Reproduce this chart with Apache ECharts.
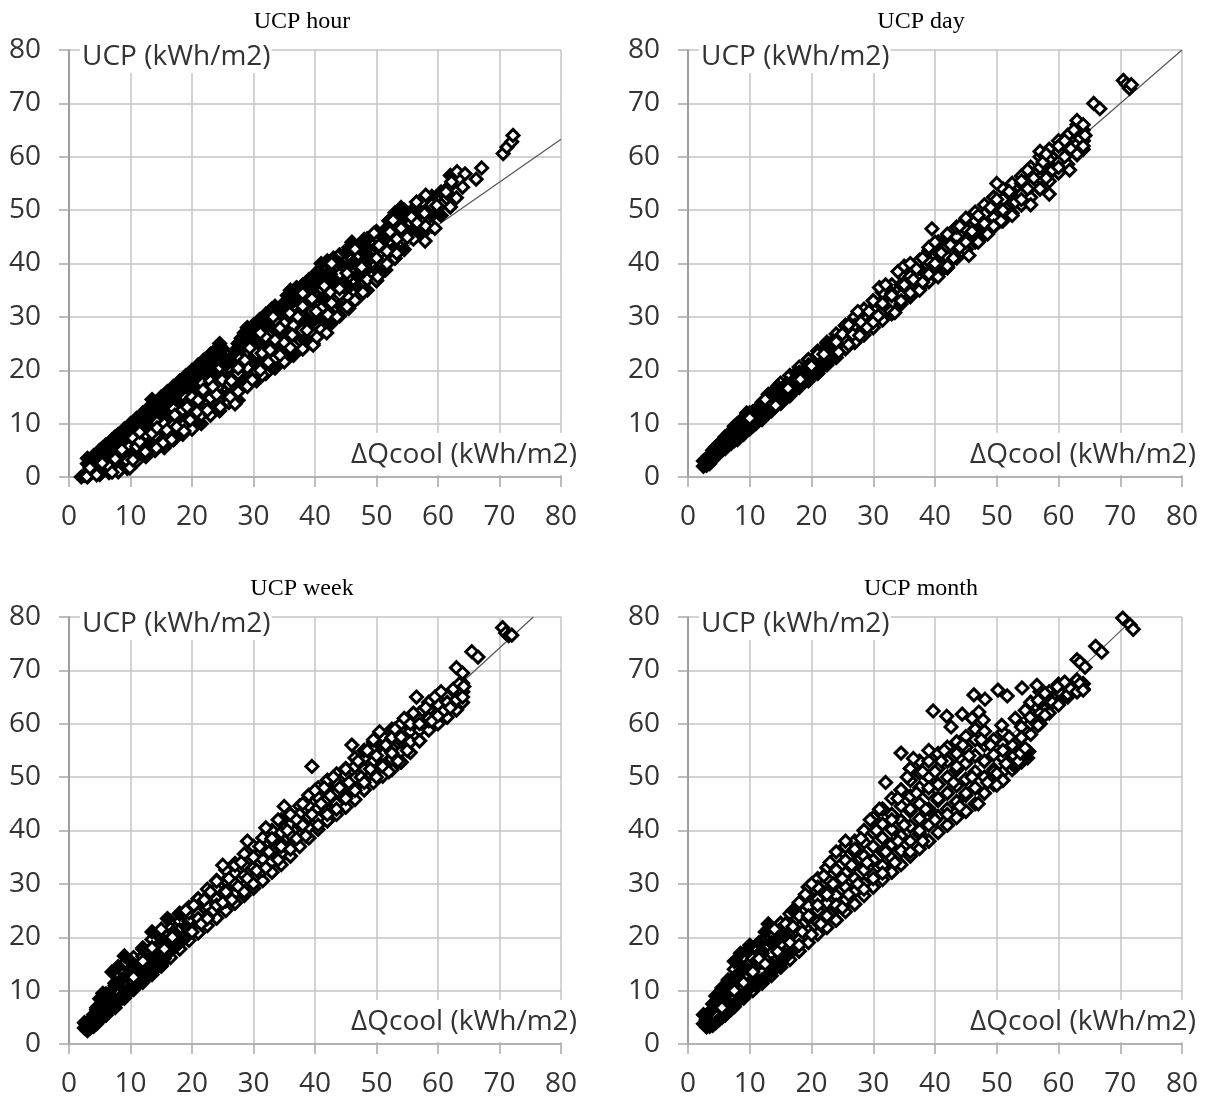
<!DOCTYPE html>
<html><head><meta charset="utf-8">
<style>html,body{margin:0;padding:0;background:#fff}#c{width:1207px;height:1104px}</style>
<script src="https://cdn.jsdelivr.net/npm/echarts@6/dist/echarts.min.js"></script>
</head><body><div id="c"></div>
<script>
const panelTitles = ['UCP hour','UCP day','UCP week','UCP month'];
const yLabel = 'UCP (kWh/m2)';
const xLabel = 'ΔQcool (kWh/m2)';
const trendHour = [[2,0.6],[80,63.3]];
const trendDay = [[2.5,2.4],[80,80]];
const trendWeek = [[2.5,2.9],[75.5,80]];
const trendMonth = [[3,3.5],[71.5,79]];

const hourCols = [[5,[0.5,1.5,2.5,3.5,4.5]],[6.5,[0.8,2,3.2,4.4,5.6]],[8,[1,2.2,3.6,5,6.3,7.5]],[9.5,[1.6,3,4.4,5.8,7.2,8.6]],[11,[3,4.3,5.7,7.2,8.6,10]],[12.5,[3.8,5.2,6.6,8,9.4,10.8,12]],[14,[5,6.4,7.8,9.2,10.6,12,13.4]],[15.5,[5.5,7,8.6,10,11.4,13,14.5]],[17,[7,8.4,9.8,11.4,12.8,14.2,15.6]],[18.5,[8,9.6,11,12.6,14,15.4,17]],[20,[9,10.6,12,13.6,15,16.6,18,19.2]],[21.5,[10,11.6,13.2,14.8,16.2,17.8,19.2,20.5]],[23,[11.6,13.2,14.8,16.4,18,19.6,21,22.4]],[24.5,[12.4,14,15.6,17.2,19,20.6,22,23.6]],[26,[14,15.6,17.4,19,20.6,22]],[27.5,[14.4,16,17.6,19.4,21,22.6,24.2]],[29,[17,18.8,20.5,22,23.6,25.2,26.8]],[30.5,[18,19.8,21.6,23.2,25,26.6,28.2]],[32,[19.4,21,22.8,24.6,26.2,28,29.6]],[33.5,[20.4,22.2,24,25.8,27.6,29.4,30.8]],[35,[21.6,23.4,25.2,27,28.8,30.6,32.6]],[36.5,[22.8,24.6,26.4,28.4,30.2,32,33.8]],[38,[24,26,28,30,32,33.8,35.6]],[39.5,[25,27,29,31,33,35,36.8]],[41,[27.6,29.6,31.6,33.6,35.4,37.4,39]],[42.5,[28.6,30.6,32.6,34.6,36.6,38.6,40]],[44,[30.2,32.2,34.2,36.2,38,40,41.6]],[45.5,[31.6,33.6,35.6,37.6,39.6,41.6,43]],[47,[33.6,35.6,37.6,39.6,41.6,43.2]],[48.5,[35,37,39,41,43,44.6]],[50,[36.8,38.8,41,43,45]],[51.5,[38.8,40.8,42.8,44.8,46.4]],[53,[41,43,45,47,49]],[54.5,[42.6,44.6,46.6,48.6,50]],[56,[44.6,46.4,48.4,50.2]],[57.5,[45.6,47.6,49.6,51.6]],[59,[47,49,51,52.6]],[60.5,[49,51,53.4]],[62,[50.6,52.6,54.6,56.5]]];
const hourDense = [[2,0],[2.5,0.3],[3,0],[3.5,1],[3,2.5],[3,3.5],[4,2],[4,4],[4.5,3],[5,5],[5,3.5],[5.5,5.5],[6,4],[6,6],[6.5,5],[7,7],[7,5.5],[7.5,7.5],[8,6],[8,8],[8.5,7],[9,9],[9,7],[9.5,8.5],[10,10],[10,8],[10.5,10],[11,9],[11,11],[11.5,10],[12,12],[12,10],[12.5,11],[13,13],[13,11],[13.5,14.5],[13.5,12],[14,14],[14.5,13],[15,15],[15,13],[15.5,14],[16,16],[16,14],[16.5,15.5],[17,17],[17,15],[17.5,16],[18,18],[18,16],[18.5,17],[19,19],[19,17],[19.5,18.5],[20,20],[20,18],[20.5,19.5],[21,21],[21,19],[21.5,20],[22,22],[22,20],[22.5,21],[23,23],[23,21],[23.5,22.5],[24,24],[24,22],[24.5,25],[25,24],[25,22.5],[25.5,21],[27,23.5],[27.5,25],[28,26],[28,24],[28.5,27],[29,28],[29,25.5],[30,28.5],[30,26.5],[31,29.5],[31,28],[32,30.5],[32,29],[33,31.5],[33.5,32],[34,31],[35.5,32.5],[35.5,34],[36,35],[36.5,33],[37,35.5],[37.5,34],[38,36],[39,37],[39,35],[40,38],[40,36],[41,40],[41,38],[41.5,36],[42,40.5],[42.5,38],[43,41],[43,37],[44,40],[45,42],[45,36],[46,44],[46.5,40],[47,38],[48,44.5],[48,42],[49,41],[50,46],[51,45],[52,48],[53,49.5],[54,50.5],[54.5,49]];
const hourOpen = [[2.9,0.1],[4.5,0.4],[3.4,1.7],[7,0.9],[5.4,2.6],[9.9,1.7],[8.6,5.1],[7.5,3.4],[10.4,3.2],[12.4,4.7],[10.4,7.3],[11.5,6.6],[11.5,8.4],[13.5,8.2],[14.3,9.2],[15.3,6.4],[14.2,5.4],[15.9,8.8],[17.5,9.4],[16.7,7],[17.2,11.6],[19.7,10.7],[19.2,13.1],[20.8,12.2],[18.7,8.6],[21,14.4],[21.8,16.3],[22.5,12.5],[24.6,13.1],[27,13.7],[23.4,16.9],[24,15.4],[26.2,15],[24.9,18.2],[27.5,20.4],[26.4,18],[28.6,21.9],[29.4,24.2],[29.8,18.2],[31.4,19.1],[31.1,20],[32.4,21.5],[31.4,23.2],[32.7,23.8],[33.5,25.7],[31.1,27],[34.3,27.9],[33.2,30],[35.9,30.7],[37.2,30],[36.3,26.6],[37.9,27.5],[34.3,22.8],[36,24.2],[38,34.4],[39.7,25],[39.7,24.7],[40.3,26.2],[38.7,27.5],[41.9,27],[42.1,30.4],[43.6,30],[42.7,32.6],[40.2,31],[39.5,33.4],[45.2,31.9],[46.5,33.1],[47.8,34.6],[45.2,38.2],[42.7,40],[44,35.3],[41.5,35.8],[47.6,39.3],[46.5,42.7],[50,41],[50.2,37.5],[51.7,39.9],[49.6,45.7],[50.4,43.4],[51.7,42.3],[53.3,41.9],[52.2,45.9],[53.3,44.6],[55,44.9],[52.7,48.1],[54,46.6],[55.7,48.7],[56.6,47.6],[58,47],[59.5,46.6],[57.9,44.2],[56.5,51.5],[57.8,49.4],[58,52.8],[59.8,50.9],[61.3,53.4],[63,52.3],[62.2,55.3],[64,54.3],[63.1,57.2],[64.4,56.8],[67.1,57.9],[66.2,55.8],[70.6,60.6],[71.2,61.8],[72,62.8],[72.2,64]];

const dayCols = [[3,[2.4,3]],[4.5,[4,4.8,5.6]],[6,[5.4,6.2,7]],[7.5,[6.8,7.8,8.8]],[9,[8.2,9.2,10.2,11]],[10.5,[9.6,10.6,11.6,12.2]],[12,[10.8,12,13.2,14]],[13.5,[12.4,13.6,14.8,15.6]],[15,[13.8,15,16.2,17.6]],[16.5,[15.2,16.6,18,19]],[18,[16.8,18.2,19.6,20.6]],[19.5,[18,19.6,21,22]],[21,[19.4,20.8,22.2,23.6]],[22.5,[21,22.4,23.8,25.2]],[24,[22.4,23.8,25.4,26.8]],[25.5,[24,25.6,27,28.4]],[27,[25.2,26.8,28.4,30]],[28.5,[26.6,28.2,30,31.4]],[30,[28,29.6,31.4,33]],[31.5,[29.4,31,33,34.6]],[33,[30.6,32.6,34.4,36]],[34.5,[32.4,34,36,38]],[36,[33.8,35.6,37.6,39.4]],[37.5,[35.2,37,39,40.6]],[39,[36.6,38.4,40.4,42.4]],[40.5,[38,40,42,44]],[42,[39.2,41.2,43.2,45]],[43.5,[41,43,45,46.8]],[45,[42.6,44.4,46.4,48]],[46.5,[44,46,48,49.6]],[48,[45.4,47.2,49.2,51]],[49.5,[46.8,48.6,50.6,52.4]],[51,[48,50,52,54]],[52.5,[49.4,51.4,53.4,55]],[54,[51,53,55,56.4]],[55.5,[52.4,54.4,56.4,58]],[57,[54,56,58,60]],[58.5,[55.4,57.4,59.4,61.4]],[60,[57,59,61,63]],[61.5,[58.6,60.6,62.6,64]],[63,[60.4,62.4,64.4,66]],[64,[61.4,63,65]]];
const dayDense = [[2.5,2],[2.5,3],[3,2.2],[3,3.5],[3.5,2.5],[3.5,4],[4,3.5],[4,5],[4.5,3.8],[4.5,5.5],[5,4.5],[5,6.2],[5.5,5],[5.5,6.5],[6,5.3],[6,7.5],[6.5,6],[6.5,8],[7,6.3],[7,8.5],[7.5,7],[7.5,9.5],[8,7],[8,10],[8.5,8],[8.5,10.5],[9,8],[9,11],[9.5,9],[9.5,12],[10,9],[10,12],[10.5,10],[11,10],[11,12.5],[11.5,11],[11.5,13.2],[12,11],[12,13.5],[12.5,12.5],[13,12],[13,15.5],[13.5,12.5],[14,13],[14,15],[14.5,14],[14.5,17],[15,14],[15,16],[15.5,16.5],[16,15],[16,17.5],[16.5,15.5],[17,16],[17,18],[17.5,19.5],[18,17],[18,19.5],[18.5,18],[19,18],[19,20],[19.5,21],[20,18.8],[20.5,19.5],[21,20],[21,22],[21.5,23.5],[22,20.8],[22.5,25],[23,22],[23,24.5],[23.5,25.5],[24,23]];
const dayOpen = [[10,11],[12.5,14.5],[14.2,13.4],[16.2,16.6],[18.2,18.3],[20,20.8],[21,23],[22,23],[24,25.3],[24.4,23.4],[25,26.8],[26,24.8],[26,28.5],[26.7,26.7],[27.5,31],[27.8,26.5],[28,29],[29,28],[29.3,31],[30,29],[30,33],[30.8,30.2],[31,35.5],[31.5,32.5],[32,36],[32.8,31],[33,34],[33.5,30.8],[34,38.5],[34.5,33],[35,36],[35,39.5],[36,34.5],[36,40],[36.5,37],[37,39],[37.5,35],[38,41],[38,36.5],[39,38],[39,43],[39.5,46.5],[40,40],[40,44],[40.5,37.5],[41,42],[42,39.5],[42,45.5],[42.5,43.5],[43,41],[44,43],[44,47],[45,44],[45,48.5],[45.5,41.5],[46,46],[47,44],[47,49],[48,47.5],[48.5,45.5],[49,50.5],[49.5,47],[50,55],[50,52],[50.7,48],[51,50],[52,53.5],[52.5,49],[53,51.5],[54,55.5],[54,52],[55,57.5],[55,54],[55.5,51],[56,56],[57,54],[57.5,59],[57,61],[58,60.5],[58,56],[58.5,53],[59,57.5],[60,62],[60,58],[61,60],[61,63],[61.8,57.5],[62,61.5],[62.5,65],[63,60.5],[63,66.8],[63.5,63.5],[64,66],[64,62],[64.3,64],[65.7,70],[66.7,69],[70.5,74.3],[71,73.6],[71.5,72.8],[71.8,73.5]];

const weekCols = [[3,[2.8,3.6]],[4.5,[3.8,5,6.4]],[6,[5.4,6.6,8,9.4]],[7.5,[6.8,8.2,9.8,11.4,13]],[9,[8.6,10.2,11.8,13.4,15]],[10.5,[10.2,11.6,13.2,14.8,16.2]],[12,[11.6,13.2,14.8,16.4,17.8]],[13.5,[13,14.6,16.4,18,19.6]],[15,[14.6,16.4,18,19.8,21.4]],[16.5,[16.2,18,19.8,21.6,23]],[18,[17.8,19.6,21.4,23,24.4]],[19.5,[19.4,21.2,23,24.6,25.6]],[21,[20.8,22.6,24.4,26,27.2]],[22.5,[22.2,24,25.8,27.6,29]],[24,[23.6,25.4,27.2,29,30.6]],[25.5,[25,26.8,28.8,30.6,32.6]],[27,[26.4,28.2,30,32,33.8]],[28.5,[27.8,29.6,31.6,33.6,35.6]],[30,[29.2,31,33,35,37]],[31.5,[30.6,32.6,34.6,36.6,38.6]],[33,[32.2,34.2,36.2,38.2,40]],[34.5,[33.6,35.6,37.6,39.6,42]],[36,[35.2,37.2,39.2,41.2,43]],[37.5,[37,39,41,43,44.6]],[39,[38.6,40.6,42.6,44.6,46.6]],[40.5,[40.2,42.2,44.2,46.2,48]],[42,[41.8,43.8,45.8,47.8,49.4]],[43.5,[43,45,47,49,50.6]],[45,[44.4,46.4,48.4,50.4,51.6]],[46.5,[45.8,47.8,49.8,52,53.6]],[48,[47.6,49.4,51.4,53.4,55]],[49.5,[49,51,53,55,56.6]],[51,[50.2,52.2,54.2,56.2,57.6]],[52.5,[51.4,53.4,55.4,57.4,59]],[54,[52.8,54.8,56.8,58.8,60]],[55.5,[54.6,56.6,58.6,60.4]],[57,[56.8,58.8,60.8,62]],[58.5,[58.8,60.6,62.6,64]],[60,[60,61.8,63.6,65.4]],[61.5,[61.2,63,65]],[63,[62.6,64.4,66.4]],[64,[64,66,67.6]]];
const weekDense = [[2.5,3],[2.5,4],[3,2.5],[3,3.8],[3.5,3],[3.5,4.5],[4,3.3],[4,5.5],[4.5,4],[4.5,6.8],[5,4.5],[5,8.5],[5.5,5.5],[5.5,9.5],[6,6],[6,8],[6.5,6.5],[6.5,9.5],[7,7],[7,13.5],[7.5,7.5],[7.5,11],[8,8],[8,14.5],[8.5,8.5],[8.5,12],[9,9.5],[9,16.5],[9.5,10],[9.5,13],[10,10],[10,15.5],[10.5,10.5],[11,11],[11,14],[11.5,12],[12,12],[12,18],[12.5,13],[13,13],[13,15.5],[13.5,21],[14,14],[14,17],[14.5,15],[15,15],[15,19],[15.5,16],[16,17],[16,23.5],[16.5,17.5],[17,18],[17,21],[17.5,18.5],[18,19],[18,24.5],[18.5,19.5],[19,20],[19,22],[19.5,21]];
const weekOpen = [[10.5,12.5],[12,15.5],[13.5,18],[15,21.5],[15.5,17.8],[16.8,20],[19,25],[20,21],[20.3,26],[21,23.5],[21.5,22.5],[22,27],[22.5,23.5],[23,28.5],[23.5,25],[24,30.5],[24,26],[25,26.5],[25,33.5],[25.5,28.5],[26,31],[26.5,27],[27,33.5],[27.5,29.5],[28,34],[28.5,28.5],[29,31],[29,38],[30,30],[30,35],[30.5,32.5],[31,37],[32,33],[32,40.5],[32.5,36],[33,38.5],[34,34.5],[34,42],[34.5,37],[35,44.5],[35.5,40],[36,36.5],[36,43],[37,42],[37,38.5],[38,41],[38,45],[38.5,39],[39.5,52],[39.5,43],[40,47.5],[40.5,41],[41,45],[41.5,48],[42,43],[42.5,46.5],[43,50],[43.5,44],[44,48],[45,46],[45,51.5],[45.5,49],[46,56],[46.5,47.5],[47,53],[47.5,50],[48,49],[48.5,55],[49,51.5],[49.5,57],[50,50],[50,54],[50.5,58.5],[51,52],[51.5,56],[52,51],[52.5,54.5],[53,59],[53.5,53],[54,57.5],[54.5,61],[55,55],[55.5,60],[56,62],[56.5,65],[57,60],[58,63],[58.5,61],[59,60.5],[59.5,65],[60,61.5],[60.5,66],[61,62.5],[61.5,64],[62,63],[62.5,66.5],[63,64.5],[63,70.5],[63.5,67.5],[64,69.5],[64,65],[64.2,67],[65.5,73.5],[66.5,72.5],[70.5,78],[71,77],[71.5,76.5],[72,76.6]];

const monthCols = [[3,[3.6,4.6]],[4.5,[4,5.4,7]],[6,[5.4,7,8.6,10]],[7.5,[7,8.8,10.6,12.4,14]],[9,[8.6,10.6,12.6,14.6,16.4]],[10.5,[10,12,14,16,18]],[12,[11.4,13.4,15.4,17.4,19.2]],[13.5,[12.8,14.8,17,19,20.8]],[15,[14.4,16.4,18.6,20.6,22.6]],[16.5,[15.8,18,20.2,22.4,24.4]],[18,[17.4,19.6,21.8,24,26.2]],[19.5,[19,21.2,23.6,25.8,28,29.4]],[21,[20.6,22.8,25,27.2,29.4,31]],[22.5,[21.8,24,26.4,28.6,31,33]],[24,[23.2,25.4,27.8,30.2,32.6,35]],[25.5,[24.8,27,29.4,32,34.4,37]],[27,[26.2,28.6,31,33.6,36,38]],[28.5,[27.8,30,32.6,35.2,37.8,40]],[30,[29.4,31.8,34.4,37,39.6,42.4]],[31.5,[30.8,33.4,36,38.6,41.2,44]],[33,[32.2,34.8,37.4,40.2,43,46]],[34.5,[33.6,36.2,39,41.8,44.6,47.6]],[36,[35.2,38,40.8,43.6,46.4,49.4,51.6]],[37.5,[36.6,39.4,42.2,45,48,50.8,53]],[39,[38,41,44,47,50,53]],[40.5,[39.6,42.6,45.6,48.6,51.6,54.4]],[42,[41,44,47,50,53,55.6]],[43.5,[42.4,45.4,48.4,51.4,54.4,56.6]],[45,[43.6,46.6,49.6,52.6,55.6,57.6]],[46.5,[45,48,51,54,57,59]],[48,[47,50,53,56,58.6]],[49.5,[48.6,51.4,54.2,57]],[51,[49.4,51,53.6,56.2,58.4]],[52.5,[51.4,53.6,56]],[54,[53.2,55,57.4,59.4]],[55.5,[58,60,62,64]],[57,[60,62,64,66]],[58.5,[62,64,66]],[60,[64,66,67.4]],[61.5,[65,67]],[63,[66,67.6]],[64,[66.5,67.5]]];
const monthDense = [[2.5,3.8],[2.5,5.5],[3,3.2],[3,4.5],[3.5,3.3],[3.5,6],[4,3.5],[4,7.5],[4.5,4],[4.5,9],[5,4.5],[5,8],[5.5,5],[5.5,10.5],[6,5.5],[6,9],[6.5,6],[6.5,12],[7,6.5],[7,10.5],[7.5,7.5],[7.5,15.5],[8,8],[8,13],[8.5,8.5],[8.5,17],[9,9],[9,14],[9.5,10],[9.5,17.5],[10,10.5],[10,18.5],[10.5,12],[11,11],[11,15.5],[11.5,19],[12,12],[12,17],[12.5,21],[13,13],[13,22.5],[13.5,15],[14,14],[14,19],[14.5,21],[15,15],[15.5,17],[16,16.5],[16,20],[17,17.5],[17,25],[52.5,52.5],[53,52],[53.5,53.4],[54,52.8],[54.5,54],[55,53.6],[55.2,54.8]];
const monthOpen = [[5.5,6.8],[7.5,10],[9,11.5],[10.5,13.5],[11.5,16],[12.5,15],[14,21.5],[14.5,17.3],[15.8,22.5],[16.5,19],[17,22],[18,18.5],[18,26.5],[18.5,21],[19,28],[19.5,24],[20,20.5],[20,30],[21,26],[21.5,22.5],[22,31.5],[22.5,28],[22.5,24],[23,34],[23.5,30],[24,26],[24,36],[25,25.5],[25,31],[25.5,38],[26,28],[26.5,33.5],[27,36.5],[27.5,30],[28,38.5],[28.5,29],[29,34],[29.5,42],[30,31],[30,37],[30.5,40],[31,44],[31.5,32],[32,36],[32,49],[33,42],[33.5,34],[34,38],[34,46],[34.5,54.5],[35,41],[35.5,50],[36,36],[36,44],[36.5,53.5],[37,47],[37.5,40],[38,51],[38,38],[38.5,44],[39,48],[39,55],[39.7,62.4],[40,42],[40,51],[40.5,46],[41,53],[41.5,55],[41.9,61.4],[42,43],[42.6,59.4],[43,49],[43.5,52],[44,44.5],[44.4,61.8],[44.5,56],[45,47],[45.5,54],[46,61],[46,50],[46.3,65.4],[47,45],[47.1,62.2],[47.5,57],[47.8,60.7],[48,53],[48.1,64.6],[48.5,49],[49,56],[49.5,51],[50,48.5],[50,50.7],[50.2,66.3],[50.8,59.7],[51,55],[51.7,65.2],[51.5,52.5],[52,57.5],[53,61],[52.8,54],[53.5,53],[53.8,54.5],[54.1,66.7],[54.6,55.4],[54.6,62.5],[55.4,61.2],[56.5,67.2],[56.7,59.7],[56.7,64.4],[57.8,61.6],[57.8,65.7],[59,64],[59.8,66.9],[60,63.5],[61,67.8],[61.5,65.5],[62,66.5],[63,68.2],[63,66],[63.5,67.5],[64,66.3],[63,72],[63.5,71.5],[64.3,70.6],[66,74.5],[67,73.4],[70.4,79.8],[71.6,78.5],[72.1,77.7]];

const expand = cols => cols.flatMap(([x,ys]) => ys.map(y => [x,y]));
const alternate = cols => cols.flatMap(([x,ys],i) => ys.filter((y,j) => (i+j)%2===0).map(y => [x,y]));
const panels = [
  {left:69, width:492, top:50, height:427, trend:trendHour, cols:hourCols, dense:hourDense, open:hourOpen, base:'#000'},
  {left:688,width:494, top:50, height:427, trend:trendDay, cols:dayCols, dense:dayDense, open:dayOpen, base:'#fff'},
  {left:69, width:492, top:617,height:427, trend:trendWeek, cols:weekCols, dense:weekDense, open:weekOpen, base:'#fff'},
  {left:688,width:494, top:617,height:427, trend:trendMonth, cols:monthCols, dense:monthDense, open:monthOpen, base:'#fff'}
];
const FONT = '"Open Sans"';
const axisCommon = {
  min:0,max:80,interval:10,
  axisTick:{show:true,length:10,lineStyle:{color:'#a8a8a8',width:1.5}},
  splitLine:{show:true,lineStyle:{color:'#c4c4c4',width:1.5}},
  axisLabel:{color:'#333',fontFamily:FONT,fontSize:28,showMinLabel:true,showMaxLabel:true}
};
const marker = (i,d,fill) => ({type:'scatter',xAxisIndex:i,yAxisIndex:i,data:d,symbol:'diamond',symbolSize:12,z:3,clip:false,
  itemStyle:{color:fill,borderColor:'#000',borderWidth:3,opacity:1}});
const option = {
  animation:false, backgroundColor:'#fff',
  grid:panels.map(p=>({left:p.left,top:p.top,width:p.width,height:p.height,outerBoundsMode:'none'})),
  xAxis:panels.map((p,i)=>({...axisCommon,type:'value',gridIndex:i,axisLabel:{...axisCommon.axisLabel,margin:26},axisLine:{onZero:false,lineStyle:{color:'#a8a8a8',width:1.5}}})),
  yAxis:panels.map((p,i)=>({...axisCommon,type:'value',gridIndex:i,axisLabel:{...axisCommon.axisLabel,margin:28,padding:[2,0,0,0]},axisLine:{onZero:false,lineStyle:{color:'#8c8c8c',width:1.5}}})),
  title:panels.flatMap((p,i)=>[
    {text:panelTitles[i],left:p.left+p.width/2+(i%2?-14:-13),top:p.top-40,textAlign:'center',padding:0,
      textStyle:{fontFamily:'"Liberation Serif"',fontSize:24,fontWeight:'normal',color:'#000'}},
    {text:yLabel,left:p.left+11,top:p.top-11,padding:[3,1,0,2],backgroundColor:'#fff',
      textStyle:{fontFamily:FONT,fontSize:28,lineHeight:31,fontWeight:'normal',color:'#333'}},
    {text:xLabel,left:p.left+280,top:p.top+383,padding:[3,1,0,2],backgroundColor:'#fff',
      textStyle:{fontFamily:FONT,fontSize:28,lineHeight:39,fontWeight:'normal',color:'#333'}}
  ]),
  series:panels.flatMap((p,i)=>[
    {type:'line',xAxisIndex:i,yAxisIndex:i,data:p.trend,showSymbol:false,symbol:'none',silent:true,z:2,
      lineStyle:{color:'#555',width:1.2}},
    marker(i,expand(p.cols),p.base),
    marker(i,alternate(p.cols),'#fff'),
    marker(i,p.dense,'#000'),
    marker(i,p.open,'#fff')
  ])
};
echarts.init(document.getElementById('c'),null,{renderer:'canvas'}).setOption(option);
</script></body></html>
